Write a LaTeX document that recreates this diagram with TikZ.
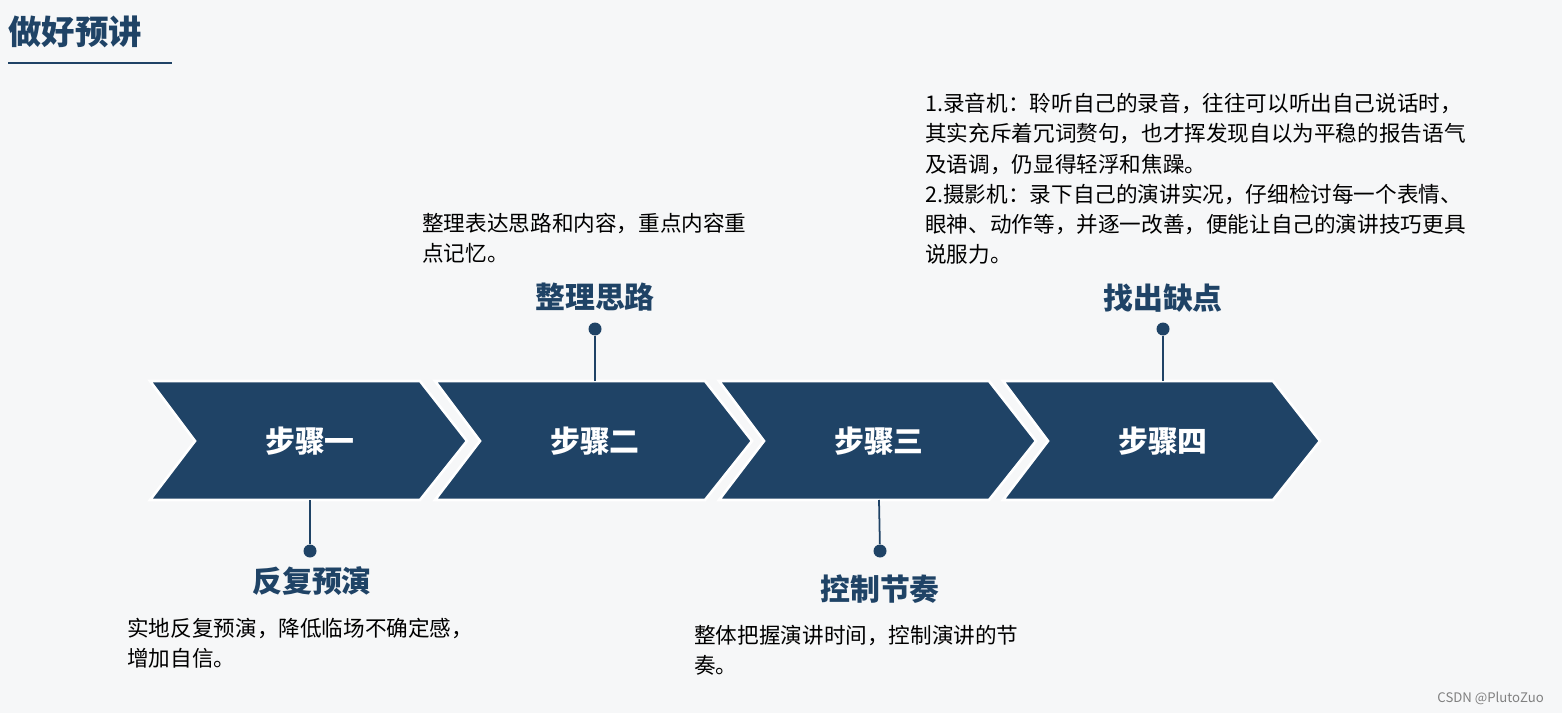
\documentclass[tikz,border=0pt]{standalone}
\usepackage{fontspec}
\setmainfont{Noto Sans CJK SC}
\usetikzlibrary{positioning}
\definecolor{navy}{HTML}{1F4366}
\definecolor{bgc}{HTML}{F6F7F8}
\tikzset{
	chev/.style={fill=navy, draw=white, line width=1.5pt},
	steptext/.style={text=white, font=\fontsize{17}{20}\selectfont\bfseries},
	pintitle/.style={text=navy, font=\fontsize{17}{20}\selectfont\bfseries},
	desc/.style={anchor=north west, align=left, inner sep=0pt, text=black, font=\fontsize{12.3}{17.2}\selectfont},
	pin/.style={circle, fill=navy, inner sep=0pt, minimum size=0.26cm},
	pinline/.style={draw=navy, line width=1pt}
}
\begin{document}
\begin{tikzpicture}[x=0.02cm, y=-0.02cm]
	% background
	\fill [bgc] (0,0) rectangle (1562,713);
	\useasboundingbox (0,0) rectangle (1562,713);
	% heading
	\node [anchor=west, inner sep=0pt, text=navy, font=\fontsize{19}{22}\selectfont\bfseries] (head) at (8,32) {做好预讲};
	\draw [navy, line width=1pt] (8,63) -- (172,63);
	% chevrons
	\foreach \i/\x/\t in {1/150/步骤一, 2/435/步骤二, 3/719/步骤三, 4/1003/步骤四} {
		\draw [chev] (\x,381) -- (\x+270,381) -- (\x+317,441) -- (\x+270,500) -- (\x,500) -- (\x+45,441) -- cycle;
		\node [steptext] (s\i) at (\x+160,441) {\t};
		\coordinate (top\i) at (\x+160,381);
		\coordinate (bot\i) at (\x+160,500);
	}
	% pins
	\node [pin] (p1) at (310,551) {};
	\node [pin] (p2) at (595,329) {};
	\node [pin] (p3) at (880,551) {};
	\node [pin] (p4) at (1163,329) {};
	\draw [pinline] (bot1) -- (p1);
	\draw [pinline] (top2) -- (p2);
	\draw [pinline] (bot3) -- (p3);
	\draw [pinline] (top4) -- (p4);
	% pin titles
	\node [pintitle] (t1) at (312,581) {反复预演};
	\node [pintitle] (t2) at (595,297) {整理思路};
	\node [pintitle] (t3) at (880,589) {控制节奏};
	\node [pintitle] (t4) at (1163,298) {找出缺点};
	% descriptions
	\node [desc] (d1) at (127,618) {实地反复预演，降低临场不确定感，\\增加自信。};
	\node [desc] (d2) at (422,213) {整理表达思路和内容，重点内容重\\点记忆。};
	\node [desc] (d3) at (694,625) {整体把握演讲时间，控制演讲的节\\奏。};
	\node [desc] (d4) at (925,93) {1.录音机：聆听自己的录音，往往可以听出自己说话时，\\其实充斥着冗词赘句，也才挥发现自以为平稳的报告语气\\及语调，仍显得轻浮和焦躁。\\2.摄影机：录下自己的演讲实况，仔细检讨每一个表情、\\眼神、动作等，并逐一改善，便能让自己的演讲技巧更具\\说服力。};
	% watermark
	\node [anchor=east, text=gray, font=\fontsize{7.5}{9}\selectfont] (wm) at (1550,698) {CSDN @PlutoZuo};
\end{tikzpicture}
\end{document}
